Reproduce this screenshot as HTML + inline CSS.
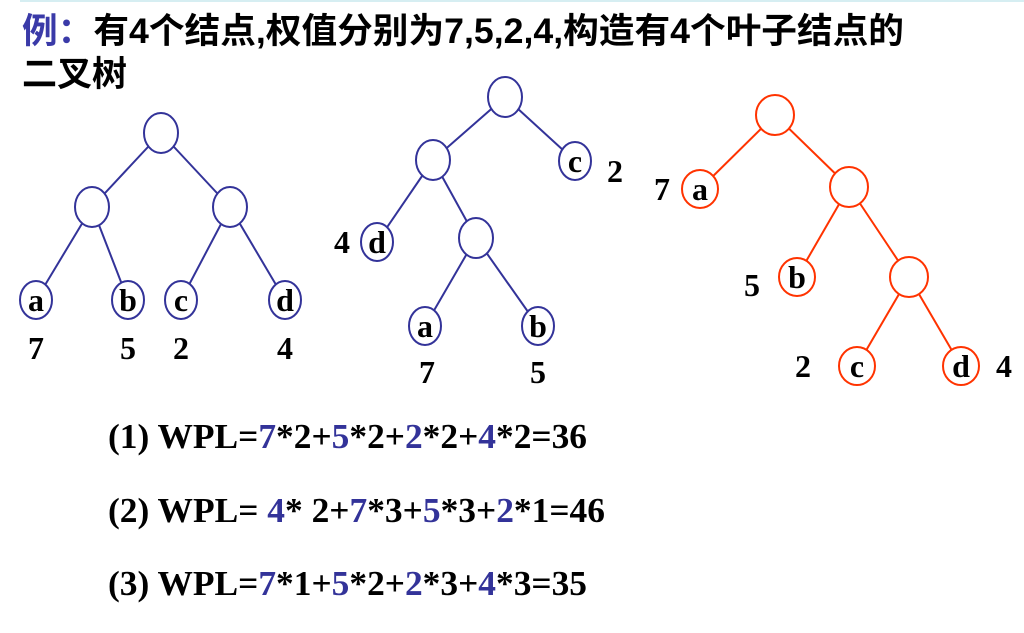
<!DOCTYPE html>
<html><head><meta charset="utf-8"><style>
html,body{margin:0;padding:0;background:#fff;}
svg{display:block;}
.t{font-family:"Liberation Sans","Noto Sans CJK SC",sans-serif;font-weight:bold;font-size:35px;}
.s{font-family:"Liberation Serif",serif;font-weight:bold;}
.n{font-size:32px;}
.f{font-size:35px;}
</style></head><body>
<svg width="1024" height="633" viewBox="0 0 1024 633">
<line x1="20" y1="1" x2="1024" y2="1" stroke="#d6eef2" stroke-width="2"/>
<text x="22" y="43" class="t" textLength="882" lengthAdjust="spacingAndGlyphs"><tspan fill="#3a3aa8">例：</tspan><tspan fill="#000">有4个结点,权值分别为7,5,2,4,构造有4个叶子结点的</tspan></text>
<text x="22" y="86" class="t" fill="#000">二叉树</text>

<g stroke="#333399" stroke-width="2" fill="#fff">
<line x1="161" y1="133" x2="92" y2="207"/><line x1="161" y1="133" x2="230" y2="207"/>
<line x1="92" y1="207" x2="36" y2="300"/><line x1="92" y1="207" x2="128" y2="300"/>
<line x1="230" y1="207" x2="181" y2="300"/><line x1="230" y1="207" x2="285" y2="300"/>
<ellipse cx="161" cy="133" rx="17" ry="20"/><ellipse cx="92" cy="207" rx="17" ry="20"/><ellipse cx="230" cy="207" rx="17" ry="20"/>
<ellipse cx="36" cy="300" rx="16" ry="19"/><ellipse cx="128" cy="300" rx="16" ry="19"/><ellipse cx="181" cy="300" rx="16" ry="19"/><ellipse cx="285" cy="300" rx="16" ry="19"/>

<line x1="505" y1="97" x2="433" y2="160"/><line x1="505" y1="97" x2="575" y2="161"/>
<line x1="433" y1="160" x2="377" y2="242"/><line x1="433" y1="160" x2="476" y2="238"/>
<line x1="476" y1="238" x2="425" y2="326"/><line x1="476" y1="238" x2="538" y2="326"/>
<ellipse cx="505" cy="97" rx="17" ry="20"/><ellipse cx="433" cy="160" rx="17" ry="20"/><ellipse cx="575" cy="161" rx="16" ry="19"/>
<ellipse cx="377" cy="242" rx="16" ry="19"/><ellipse cx="476" cy="238" rx="17" ry="20"/>
<ellipse cx="425" cy="326" rx="16" ry="19"/><ellipse cx="538" cy="326" rx="16" ry="19"/>
</g>
<g stroke="#ff3300" stroke-width="2" fill="#fff">
<line x1="775" y1="115" x2="700" y2="189"/><line x1="775" y1="115" x2="849" y2="187"/>
<line x1="849" y1="187" x2="797" y2="277"/><line x1="849" y1="187" x2="909" y2="277"/>
<line x1="909" y1="277" x2="857" y2="366"/><line x1="909" y1="277" x2="961" y2="366"/>
<ellipse cx="775" cy="115" rx="19" ry="20"/><ellipse cx="700" cy="189" rx="18" ry="19"/><ellipse cx="849" cy="187" rx="19" ry="20"/>
<ellipse cx="797" cy="277" rx="18" ry="19"/><ellipse cx="909" cy="277" rx="19" ry="20"/>
<ellipse cx="857" cy="366" rx="18" ry="19"/><ellipse cx="961" cy="366" rx="18" ry="19"/>
</g>
<g class="s n" fill="#000" text-anchor="middle">
<text x="36" y="311">a</text><text x="128" y="311">b</text><text x="181" y="311">c</text><text x="285" y="311">d</text>
<text x="36" y="359">7</text><text x="128" y="359">5</text><text x="181" y="359">2</text><text x="285" y="359">4</text>
<text x="575" y="172">c</text><text x="377" y="253">d</text><text x="425" y="337">a</text><text x="538" y="337">b</text>
<text x="615" y="182">2</text><text x="342" y="253">4</text><text x="427" y="383">7</text><text x="538" y="383">5</text>
<text x="700" y="200">a</text><text x="797" y="288">b</text><text x="857" y="377">c</text><text x="961" y="377">d</text>
<text x="662" y="200">7</text><text x="752" y="296">5</text><text x="803" y="377">2</text><text x="1004" y="377">4</text>
</g>
<g class="s f" fill="#000">
<text x="108" y="448" textLength="479" lengthAdjust="spacingAndGlyphs">(1) WPL=<tspan fill="#333399">7</tspan>*2+<tspan fill="#333399">5</tspan>*2+<tspan fill="#333399">2</tspan>*2+<tspan fill="#333399">4</tspan>*2=36</text>
<text x="108" y="522" textLength="497" lengthAdjust="spacingAndGlyphs">(2) WPL= <tspan fill="#333399">4</tspan>* 2+<tspan fill="#333399">7</tspan>*3+<tspan fill="#333399">5</tspan>*3+<tspan fill="#333399">2</tspan>*1=46</text>
<text x="108" y="595" textLength="479" lengthAdjust="spacingAndGlyphs">(3) WPL=<tspan fill="#333399">7</tspan>*1+<tspan fill="#333399">5</tspan>*2+<tspan fill="#333399">2</tspan>*3+<tspan fill="#333399">4</tspan>*3=35</text>
</g>
</svg>
</body></html>
